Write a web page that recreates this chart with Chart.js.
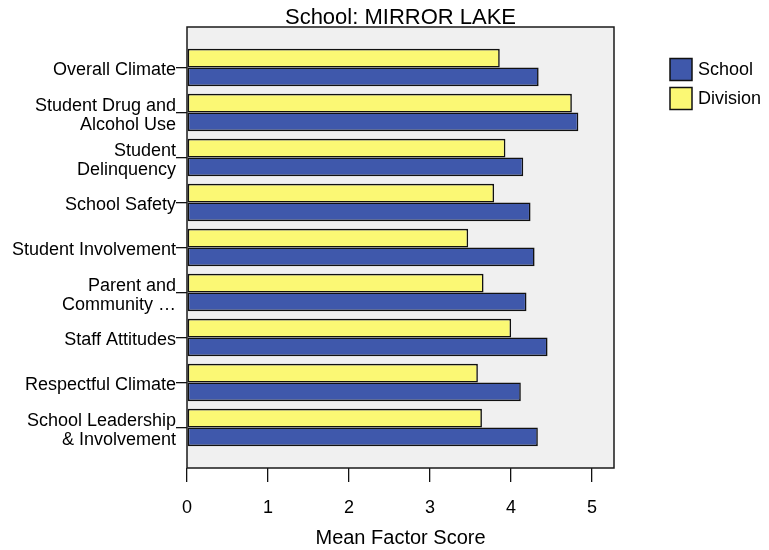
<!DOCTYPE html>
<html>
<head>
<meta charset="utf-8">
<script src="https://cdn.jsdelivr.net/npm/chart.js@4.4.1/dist/chart.umd.min.js"></script>
<style>
  html, body { margin: 0; padding: 0; background: #fff; }
  #wrap { width: 769px; height: 550px; }
</style>
</head>
<body>
<div id="wrap"><canvas id="factorChart"></canvas></div>
<script>
// Chart data
const categories = [
  'Overall Climate',
  ['Student Drug and', 'Alcohol Use'],
  ['Student', 'Delinquency'],
  'School Safety',
  'Student Involvement',
  ['Parent and', 'Community …'],
  'Staff Attitudes',
  'Respectful Climate',
  ['School Leadership', '& Involvement']
];
const schoolScores = [4.34, 4.83, 4.15, 4.24, 4.29, 4.19, 4.45, 4.12, 4.33];
const divisionScores = [3.86, 4.75, 3.93, 3.79, 3.47, 3.66, 4.00, 3.59, 3.64];
const xTicks = [0, 1, 2, 3, 4, 5];

Chart.defaults.font.family = '"Liberation Sans", Arial, sans-serif';
Chart.defaults.color = '#000';

// grey plot background + black frame
const plotFrame = {
  id: 'plotFrame',
  beforeDraw(chart) {
    const { ctx, chartArea: a } = chart;
    ctx.save();
    ctx.fillStyle = '#f0f0f0';
    ctx.fillRect(a.left, a.top, a.right - a.left, a.bottom - a.top);
    ctx.restore();
  },
  afterDatasetsDraw(chart) {
    const { ctx, chartArea: a } = chart;
    ctx.save();
    ctx.strokeStyle = '#1a1a1a';
    ctx.lineWidth = 1.5;
    ctx.strokeRect(a.left, a.top, a.right - a.left, a.bottom - a.top);
    ctx.restore();
  }
};

// legend on the right, School first
const sideLegend = {
  id: 'sideLegend',
  afterDraw(chart) {
    const { ctx, chartArea: a } = chart;
    const items = chart.data.datasets.slice().reverse();
    ctx.save();
    ctx.font = '18px "Liberation Sans", Arial, sans-serif';
    ctx.textBaseline = 'middle';
    items.forEach((ds, i) => {
      const x = a.right + 56;
      const y = a.top + 31.5 + i * 29;
      ctx.fillStyle = ds.backgroundColor;
      ctx.fillRect(x, y, 22, 22);
      ctx.strokeStyle = '#111';
      ctx.lineWidth = 1.5;
      ctx.strokeRect(x, y, 22, 22);
      ctx.fillStyle = '#000';
      ctx.fillText(ds.label, x + 28, y + 11.5);
    });
    ctx.restore();
  }
};

const ctx = document.getElementById('factorChart');

new Chart(ctx, {
  type: 'bar',
  data: {
    datasets: [{
      label: 'Division',
      data: divisionScores.map((v, i) => ({ x: v, y: i })),
      backgroundColor: '#fbf874',
      borderColor: '#111',
      borderWidth: 1.6,
      borderSkipped: false,
      categoryPercentage: 0.83,
      barPercentage: 1.0,
    }, {
      label: 'School',
      data: schoolScores.map((v, i) => ({ x: v, y: i })),
      backgroundColor: '#3f58ab',
      borderColor: '#111',
      borderWidth: 1.6,
      borderSkipped: false,
      categoryPercentage: 0.83,
      barPercentage: 1.0,
    }]
  },
  options: {
    indexAxis: 'y',
    responsive: true,
    maintainAspectRatio: false,
    animation: false,
    layout: {
      padding: { left: 0, right: 155, top: 0, bottom: 0 }
    },
    plugins: {
      legend: { display: false },
      tooltip: { enabled: false },
      title: {
        display: true,
        text: 'School: MIRROR LAKE',
        fullSize: false,
        color: '#000',
        font: { size: 22, weight: 'normal', lineHeight: 1.0 },
        padding: { top: 7, bottom: -2 }
      }
    },
    scales: {
      x: {
        type: 'linear',
        min: 0,
        max: 5.27,
        afterBuildTicks: axis => { axis.ticks = xTicks.map(v => ({ value: v })); },
        afterFit: axis => { axis.height = 82; },
        border: { display: false },
        grid: {
          drawOnChartArea: false,
          drawTicks: true,
          tickLength: 14,
          color: '#111',
          lineWidth: 1.3,
        },
        ticks: {
          font: { size: 18 },
          color: '#000',
          padding: 15,
          maxRotation: 0,
          autoSkip: false,
        },
        title: {
          display: true,
          text: 'Mean Factor Score',
          color: '#000',
          font: { size: 20 },
          padding: { top: 0, bottom: 0 }
        }
      },
      y: {
        type: 'linear',
        reverse: true,
        offset: false,
        min: -0.9,
        max: 8.9,
        afterBuildTicks: axis => { axis.ticks = categories.map((c, i) => ({ value: i })); },
        afterFit: axis => { axis.width = 187; },
        border: { display: false },
        grid: {
          offset: false,
          drawOnChartArea: false,
          drawTicks: true,
          tickLength: 11,
          color: '#111',
          lineWidth: 1.3,
        },
        ticks: {
          font: { size: 18, lineHeight: 1.02 },
          color: '#000',
          padding: 0,
          labelOffset: 3,
          autoSkip: false,
          callback: value => categories[value]
        }
      }
    }
  },
  plugins: [plotFrame, sideLegend]
});
</script>
</body>
</html>
